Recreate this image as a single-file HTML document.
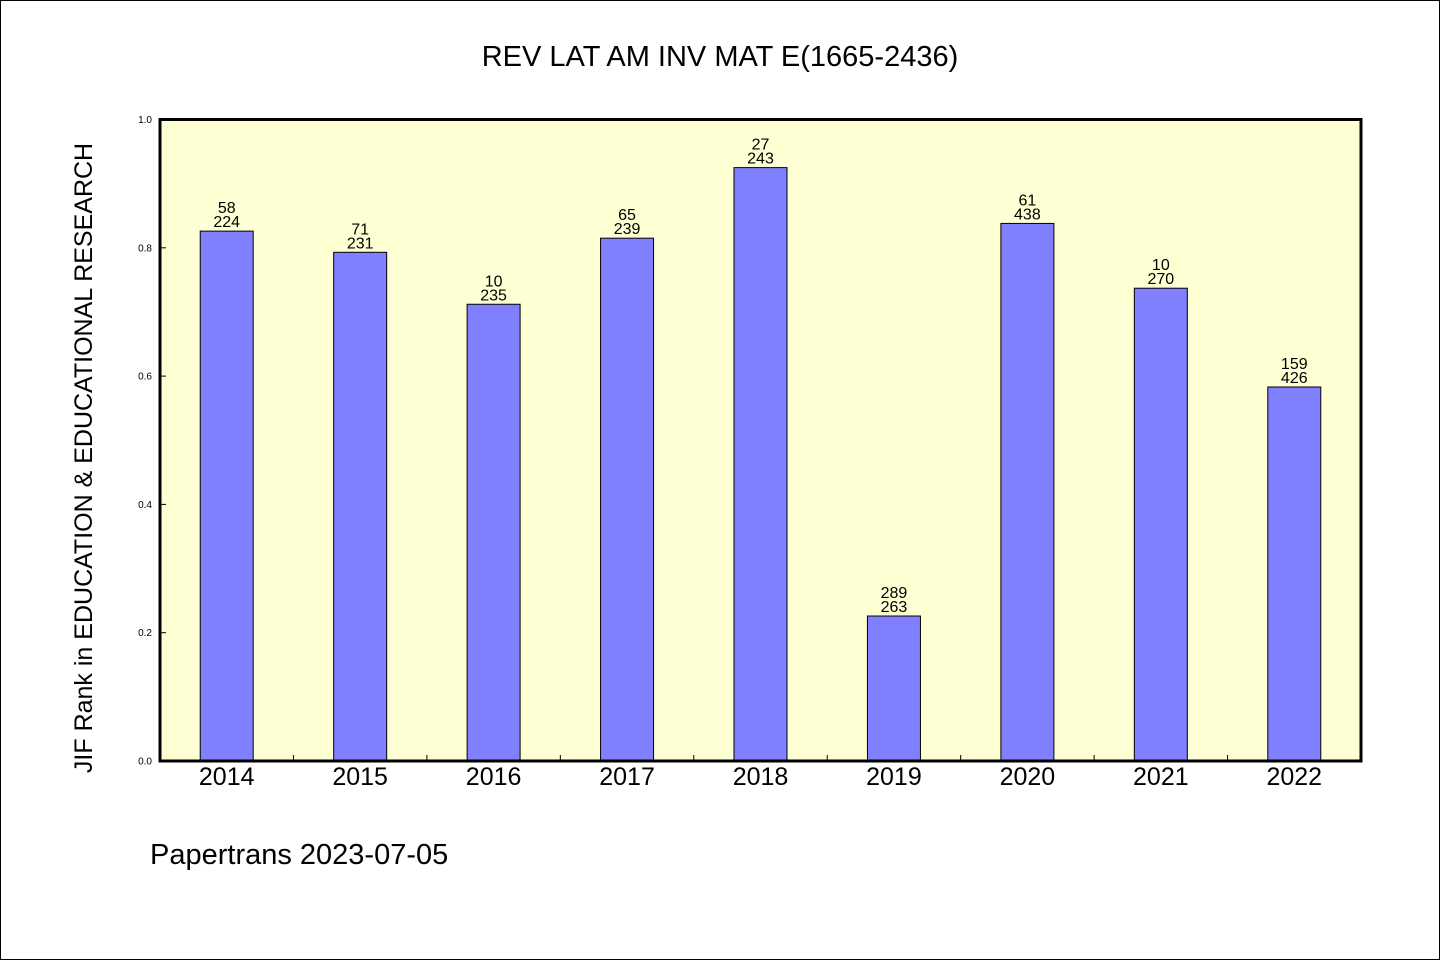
<!DOCTYPE html>
<html><head><meta charset="utf-8"><style>
html,body{margin:0;padding:0;background:#fff;}
svg{display:block;font-family:"WenQuanYi Zen Hei","Liberation Sans",sans-serif;}
</style></head><body>
<svg id="chart" width="1440" height="960" xmlns="http://www.w3.org/2000/svg">
<rect x="0.5" y="0.5" width="1439" height="959" fill="#fff" stroke="#000"/>
<text x="720" y="66" text-anchor="middle" font-size="29">REV LAT AM INV MAT E(1665-2436)</text>
<rect x="160" y="119.5" width="1201" height="641.5" fill="#ffffd4"/>
<g id="bars"></g>
<g id="axes"></g>
<rect x="160" y="119.5" width="1201" height="641.5" fill="none" stroke="#000" stroke-width="3"/>
<text transform="translate(92,458) rotate(-90)" text-anchor="middle" font-size="25">JIF Rank in EDUCATION &amp; EDUCATIONAL RESEARCH</text>
<text x="150" y="864" font-size="29">Papertrans 2023-07-05</text>
</svg>
<script>
const categories = ["2014","2015","2016","2017","2018","2019","2020","2021","2022"];
const values = [0.826, 0.793, 0.712, 0.815, 0.925, 0.226, 0.838, 0.737, 0.583];
const rankTop = ["58","71","10","65","27","289","61","10","159"];
const rankBottom = ["224","231","235","239","243","263","438","270","426"];
const yTicks = [0, 0.2, 0.4, 0.6, 0.8, 1.0];
const yTickLabels = ["0.0","0.2","0.4","0.6","0.8","1.0"];

const NS = "http://www.w3.org/2000/svg";
const X0 = 160, X1 = 1361, Y0 = 761, Y1 = 119.5;
const band = (X1 - X0) / categories.length;
const xC = i => X0 + band * (i + 0.5);
const yS = v => Y0 - (Y0 - Y1) * v;
function mk(tag, attrs, parent) {
  const e = document.createElementNS(NS, tag);
  for (const k in attrs) e.setAttribute(k, attrs[k]);
  parent.appendChild(e);
  return e;
}
const bars = document.getElementById("bars");
const axes = document.getElementById("axes");
const bw = 53;
categories.forEach((c, i) => {
  const top = yS(values[i]);
  const r = mk("rect", {x: xC(i) - bw / 2, y: top, width: bw, height: Y0 - top, fill: "#8080ff", stroke: "#000", "stroke-width": 1}, bars);
  
  
  const t1 = mk("text", {x: xC(i), y: top - 18, "text-anchor": "middle", "font-size": 16}, bars);
  t1.textContent = rankTop[i];
  
  
  const t2 = mk("text", {x: xC(i), y: top - 4, "text-anchor": "middle", "font-size": 16}, bars);
  t2.textContent = rankBottom[i];
  
  
  const xl = mk("text", {x: xC(i), y: 785, "text-anchor": "middle", "font-size": 25}, axes);
  xl.textContent = c;
  
  
  if (i > 0) {
    const tk = mk("line", {x1: X0 + band * i, x2: X0 + band * i, y1: Y0, y2: Y0 - 6, stroke: "#000", "stroke-width": 1}, axes);
    
    
  }
});
yTicks.forEach((v, i) => {
  const y = yS(v);
  const tk = mk("line", {x1: X0, x2: X0 + 6, y1: y, y2: y, stroke: "#000", "stroke-width": 1}, axes);
  
  
  const t = mk("text", {x: 152, y: y + 3.5, "text-anchor": "end", "font-size": 10}, axes);
  t.textContent = yTickLabels[i];
  
  
});
</script>
</body></html>
